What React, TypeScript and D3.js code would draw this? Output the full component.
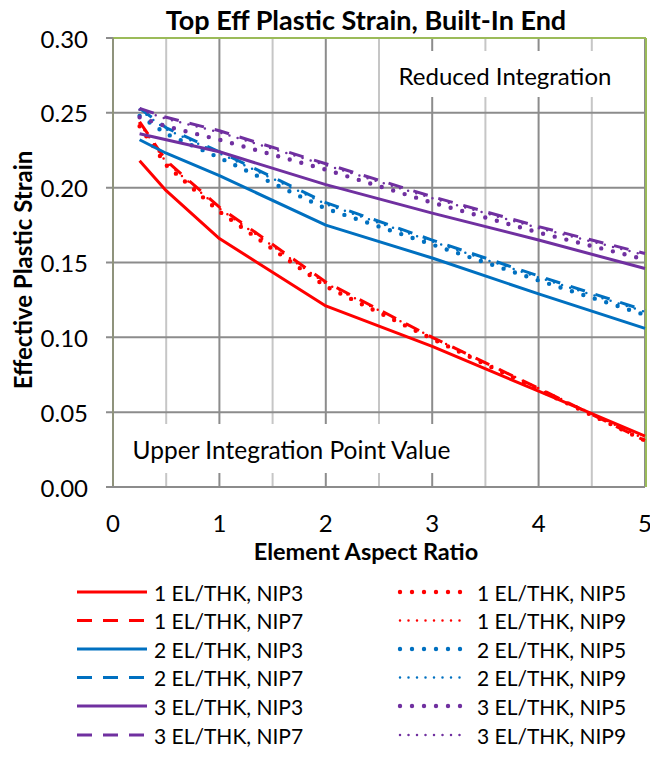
import React from "react";
import * as d3 from "d3";

const xValues = [0.25, 0.5, 1, 2, 3, 4, 5];

const el1Nip3 = [0.218, 0.198, 0.166, 0.121, 0.094, 0.064, 0.034];
const el1Nip5 = [0.241, 0.215, 0.184, 0.134, 0.099, 0.065, 0.031];
const el1Nip7 = [0.244, 0.218, 0.187, 0.137, 0.100, 0.066, 0.031];
const el1Nip9 = [0.243, 0.217, 0.186, 0.136, 0.100, 0.066, 0.032];

const el2Nip3 = [0.232, 0.223, 0.208, 0.175, 0.153, 0.129, 0.106];
const el2Nip5 = [0.248, 0.236, 0.220, 0.186, 0.162, 0.138, 0.115];
const el2Nip7 = [0.253, 0.240, 0.224, 0.190, 0.165, 0.141, 0.118];
const el2Nip9 = [0.252, 0.239, 0.223, 0.189, 0.164, 0.140, 0.117];

const el3Nip3 = [0.236, 0.232, 0.224, 0.202, 0.183, 0.165, 0.146];
const el3Nip5 = [0.247, 0.241, 0.232, 0.212, 0.190, 0.170, 0.152];
const el3Nip7 = [0.253, 0.247, 0.238, 0.216, 0.194, 0.174, 0.156];
const el3Nip9 = [0.252, 0.246, 0.237, 0.215, 0.193, 0.173, 0.155];

const yTicks = [0, 0.05, 0.1, 0.15, 0.2, 0.25, 0.3];
const xTicks = [0, 1, 2, 3, 4, 5];
const xMinorTicks = [0.5, 1.5, 2.5, 3.5, 4.5];

const RED = "#FF0000";
const BLUE = "#0070C0";
const PURPLE = "#7030A0";

type Style = { width: number; dash: string; cap: "round" | "butt" };
const styles: Record<string, Style> = {
  NIP3: { width: 3, dash: "none", cap: "butt" },
  NIP5: { width: 4.4, dash: "0 12", cap: "round" },
  NIP7: { width: 3, dash: "15 11", cap: "butt" },
  NIP9: { width: 2.5, dash: "0 8.5", cap: "round" },
};

const series = [
  { name: "1 EL/THK, NIP3", color: RED, nip: "NIP3", values: el1Nip3 },
  { name: "1 EL/THK, NIP5", color: RED, nip: "NIP5", values: el1Nip5 },
  { name: "1 EL/THK, NIP7", color: RED, nip: "NIP7", values: el1Nip7 },
  { name: "1 EL/THK, NIP9", color: RED, nip: "NIP9", values: el1Nip9 },
  { name: "2 EL/THK, NIP3", color: BLUE, nip: "NIP3", values: el2Nip3 },
  { name: "2 EL/THK, NIP5", color: BLUE, nip: "NIP5", values: el2Nip5 },
  { name: "2 EL/THK, NIP7", color: BLUE, nip: "NIP7", values: el2Nip7 },
  { name: "2 EL/THK, NIP9", color: BLUE, nip: "NIP9", values: el2Nip9 },
  { name: "3 EL/THK, NIP3", color: PURPLE, nip: "NIP3", values: el3Nip3 },
  { name: "3 EL/THK, NIP5", color: PURPLE, nip: "NIP5", values: el3Nip5 },
  { name: "3 EL/THK, NIP7", color: PURPLE, nip: "NIP7", values: el3Nip7 },
  { name: "3 EL/THK, NIP9", color: PURPLE, nip: "NIP9", values: el3Nip9 },
];

const FONT = "Lato, 'Open Sans', sans-serif";

export default function App() {
  const W = 650;
  const H = 760;
  const left = 113;
  const right = 645;
  const top = 38;
  const bottom = 487;

  const x = d3.scaleLinear().domain([0, 5]).range([left, right]);
  const y = d3.scaleLinear().domain([0, 0.3]).range([bottom, top]);

  const line = d3
    .line<[number, number]>()
    .x((d) => x(d[0]))
    .y((d) => y(d[1]));

  const legendRowsY = [592, 620.5, 649, 677.5, 706, 735];

  return (
    <svg
      width={W}
      height={H}
      style={{ position: "absolute", left: 0, top: 0, background: "#fff" }}
      fontFamily={FONT}
    >
      <rect x={0} y={0} width={W} height={H} fill="#fff" />
      {/* minor vertical gridlines */}
      {xMinorTicks.map((t) => (
        <line key={"mx" + t} x1={x(t)} x2={x(t)} y1={top} y2={bottom} stroke="#c6c6c6" strokeWidth={2} />
      ))}
      {/* major vertical gridlines */}
      {xTicks.slice(1).map((t) => (
        <line key={"vx" + t} x1={x(t)} x2={x(t)} y1={top} y2={bottom} stroke="#8c8c8c" strokeWidth={2} />
      ))}
      {/* horizontal gridlines */}
      {yTicks.map((t) => (
        <line key={"hy" + t} x1={left - 7} x2={right} y1={y(t)} y2={y(t)} stroke="#8c8c8c" strokeWidth={2} />
      ))}
      {/* green top / right border */}
      <line x1={left} x2={right + 1} y1={top} y2={top} stroke="#9BBB59" strokeWidth={2} />
      <line x1={right + 1} x2={right + 1} y1={top} y2={bottom} stroke="#9BBB59" strokeWidth={2} />
      {/* y axis line */}
      <line x1={left} x2={left} y1={top} y2={bottom} stroke="#8f937c" strokeWidth={2} />
      {/* x axis line */}
      <line x1={left - 7} x2={right} y1={bottom} y2={bottom} stroke="#8c8c8c" strokeWidth={2} />

      {/* text boxes */}
      <rect x={384} y={51} width={246} height={46} fill="#fff" />
      <text x={505} y={75} fontSize={24} textAnchor="middle" dominantBaseline="central" fill="#000">
        Reduced Integration
      </text>
      <rect x={118} y={424} width={352} height={49} fill="#fff" />
      <text x={291.5} y={449} fontSize={24.5} textAnchor="middle" dominantBaseline="central" fill="#000">
        Upper Integration Point Value
      </text>

      {/* series */}
      {series.map((s) => {
        const st = styles[s.nip];
        const pts = xValues.map((xv, i) => [xv, s.values[i]] as [number, number]);
        return (
          <path
            key={s.name}
            d={line(pts) || ""}
            fill="none"
            stroke={s.color}
            strokeWidth={st.width}
            strokeDasharray={st.dash}
            strokeLinecap={st.cap}
            strokeLinejoin="round"
          />
        );
      })}

      {/* y tick labels */}
      {yTicks.map((t) => (
        <text key={"yl" + t} x={88} y={y(t)} fontSize={24} textAnchor="end" dominantBaseline="central" fill="#000">
          {d3.format(".2f")(t)}
        </text>
      ))}
      {/* x tick labels */}
      {xTicks.map((t) => (
        <text key={"xl" + t} x={x(t)} y={522} fontSize={24} textAnchor="middle" dominantBaseline="central" fill="#000">
          {t}
        </text>
      ))}

      {/* titles */}
      <text x={366} y={30} fontSize={27} fontWeight="bold" textAnchor="middle" fill="#000">
        Top Eff Plastic Strain, Built-In End
      </text>
      <text x={366} y={551} fontSize={23.5} fontWeight="bold" textAnchor="middle" dominantBaseline="central" fill="#000">
        Element Aspect Ratio
      </text>
      <text
        transform={`translate(22,270) rotate(-90)`}
        fontSize={24}
        fontWeight="bold"
        textAnchor="middle"
        dominantBaseline="central"
        fill="#000"
      >
        Effective Plastic Strain
      </text>

      {/* legend */}
      {series.map((s, i) => {
        const col = i % 2;
        const row = Math.floor(i / 2);
        const ly = legendRowsY[row];
        const x1 = col === 0 ? 77 : 400;
        const x2 = col === 0 ? 147 : 466;
        const tx = col === 0 ? 154 : 477;
        const st = styles[s.nip];
        return (
          <g key={"lg" + s.name}>
            <line
              x1={x1}
              x2={x2}
              y1={ly}
              y2={ly}
              stroke={s.color}
              strokeWidth={st.width}
              strokeDasharray={st.dash}
              strokeLinecap={st.cap}
            />
            <text x={tx} y={ly} fontSize={21} dominantBaseline="central" fill="#000">
              {s.name}
            </text>
          </g>
        );
      })}
    </svg>
  );
}
